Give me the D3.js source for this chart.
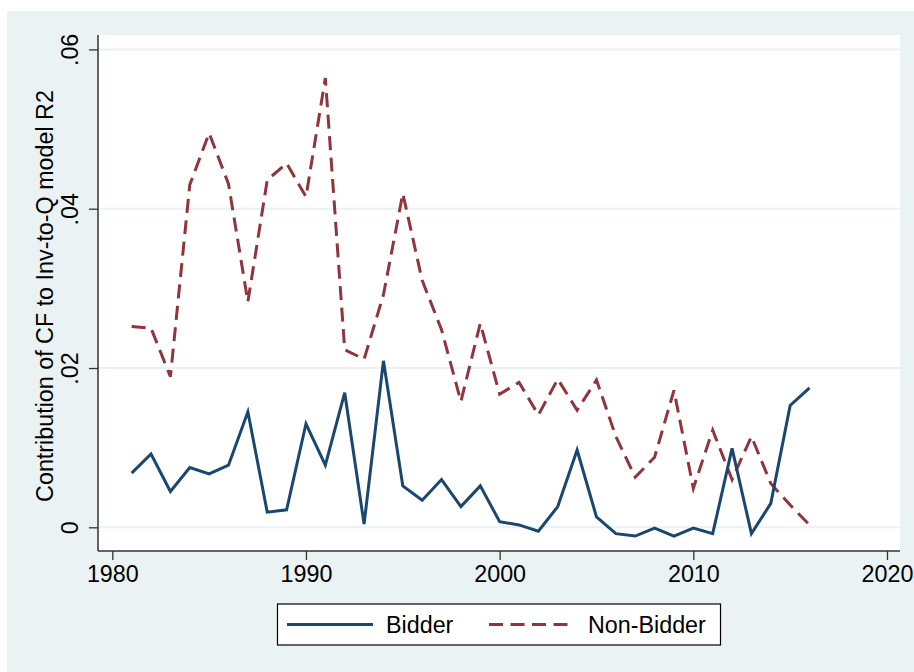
<!DOCTYPE html>
<html>
<head>
<meta charset="utf-8">
<script src="https://cdn.jsdelivr.net/npm/d3@7"></script>
<style>
  html, body { margin: 0; padding: 0; background: #ffffff; }
  svg { display: block; font-family: "Liberation Sans", Arial, sans-serif; }
</style>
</head>
<body>
<svg id="chart" width="914" height="672"></svg>
<script>
const years = [1981,1982,1983,1984,1985,1986,1987,1988,1989,1990,1991,1992,1993,1994,1995,1996,1997,1998,1999,2000,2001,2002,2003,2004,2005,2006,2007,2008,2009,2010,2011,2012,2013,2014,2015,2016];
const bidder = [0.0068,0.0092,0.0045,0.0075,0.0067,0.0078,0.0145,0.0019,0.0022,0.0130,0.0078,0.0169,0.0004,0.0209,0.0052,0.0034,0.0060,0.0026,0.0052,0.0007,0.0003,-0.0005,0.0026,0.0097,0.0013,-0.0008,-0.0011,-0.0001,-0.0011,-0.0001,-0.0008,0.0099,-0.0008,0.0030,0.0153,0.0175];
const nonBidder = [0.0252,0.0250,0.0189,0.0430,0.0495,0.0431,0.0283,0.0436,0.0457,0.0415,0.0564,0.0223,0.0211,0.0292,0.0419,0.0310,0.0248,0.0158,0.0256,0.0167,0.0182,0.0141,0.0186,0.0147,0.0185,0.0114,0.0063,0.0088,0.0172,0.0049,0.0122,0.0060,0.0114,0.0055,0.0028,0.0003];
const xTicks = [1980,1990,2000,2010,2020];
const yTicks = [0,0.02,0.04,0.06];
const yTickLabels = ["0",".02",".04",".06"];
const seriesNames = ["Bidder","Non-Bidder"];
const yTitle = "Contribution of CF to Inv-to-Q model R2";

const svg = d3.select("#chart");
const W = 914, H = 672;
const bg = "#eaf2f3";
const plotL = 98, plotR = 900, plotT = 35, plotB = 551;
const fontSize = 23.3;

// background
svg.append("rect").attr("x", 7).attr("y", 11).attr("width", W - 7).attr("height", H - 11).attr("fill", bg);
svg.append("rect").attr("x", plotL).attr("y", plotT).attr("width", plotR - plotL).attr("height", plotB - plotT).attr("fill", "#ffffff");

const x = d3.scaleLinear().domain([1980, 2020]).range([112.3, 887]);
const y = d3.scaleLinear().domain([0, 0.06]).range([527.3, 49.4]);

// gridlines
svg.append("g").selectAll("line").data(yTicks).join("line")
  .attr("x1", plotL).attr("x2", plotR)
  .attr("y1", d => y(d)).attr("y2", d => y(d))
  .attr("stroke", bg).attr("stroke-width", 2);

// lines
const line = d3.line().x((d, i) => x(years[i])).y(d => y(d));
svg.append("path").datum(nonBidder).attr("d", line)
  .attr("fill", "none").attr("stroke", "#90353b").attr("stroke-width", 3)
  .attr("stroke-dasharray", "14,7.5");
svg.append("path").datum(bidder).attr("d", line)
  .attr("fill", "none").attr("stroke", "#1a476f").attr("stroke-width", 3);

// axes
const axisColor = "#333333";
const gx = svg.append("g").attr("transform", `translate(0,${plotB})`)
  .call(d3.axisBottom(x).tickValues(xTicks).tickFormat(d3.format("d")).tickSize(9).tickSizeOuter(0));
gx.select(".domain").attr("d", `M${plotL},0H${plotR}`).attr("stroke", axisColor).attr("stroke-width", 1.5);
gx.selectAll(".tick line").attr("stroke", axisColor).attr("stroke-width", 1.3);
gx.selectAll(".tick text").attr("font-size", fontSize).attr("fill", "#000").attr("font-family", "Liberation Sans, Arial, sans-serif")
  .attr("y", 30.7).attr("dy", 0);

const gy = svg.append("g").attr("transform", `translate(${plotL},0)`)
  .call(d3.axisLeft(y).tickValues(yTicks).tickFormat((d, i) => yTickLabels[i]).tickSize(9).tickSizeOuter(0));
gy.select(".domain").attr("d", `M0,${plotT}V${plotB}`).attr("stroke", axisColor).attr("stroke-width", 1.5);
gy.selectAll(".tick line").attr("stroke", axisColor).attr("stroke-width", 1.3);
gy.selectAll(".tick text").attr("font-size", fontSize).attr("fill", "#000").attr("font-family", "Liberation Sans, Arial, sans-serif")
  .attr("x", 0).attr("dy", 0).attr("text-anchor", "middle")
  .attr("transform", "translate(-20.5,0) rotate(-90)");

// y title
svg.append("text")
  .attr("transform", `translate(53.3,296) rotate(-90)`)
  .attr("text-anchor", "middle").attr("font-size", fontSize).attr("fill", "#000")
  .text(yTitle);

// legend
const lg = svg.append("g");
lg.append("rect").attr("x", 277.5).attr("y", 604).attr("width", 443).attr("height", 41)
  .attr("fill", "#fff").attr("stroke", "#000").attr("stroke-width", 1.2);
const legendItems = [
  { name: seriesNames[0], color: "#1a476f", dash: null, x0: 287, x1: 373, tx: 386 },
  { name: seriesNames[1], color: "#90353b", dash: "14,7.5", x0: 489, x1: 575, tx: 588 }
];
legendItems.forEach(it => {
  lg.append("line").attr("x1", it.x0).attr("x2", it.x1).attr("y1", 624.5).attr("y2", 624.5)
    .attr("stroke", it.color).attr("stroke-width", 3).attr("stroke-dasharray", it.dash);
  lg.append("text").attr("x", it.tx).attr("y", 633.3).attr("font-size", fontSize).attr("fill", "#000").text(it.name);
});
</script>
</body>
</html>
